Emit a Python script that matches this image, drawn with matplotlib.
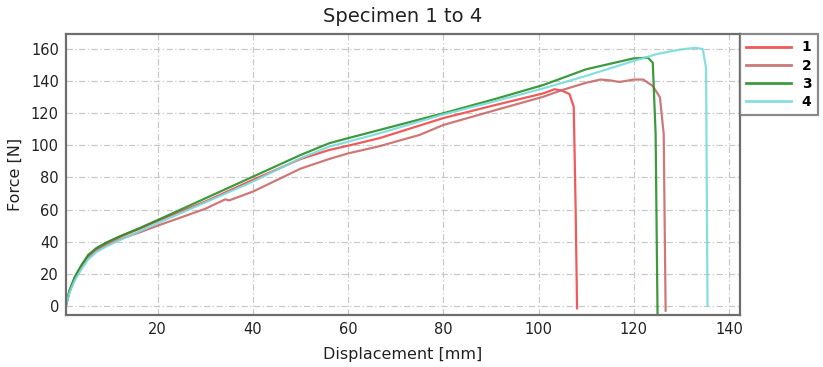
import matplotlib
matplotlib.use("Agg")
import matplotlib.pyplot as plt

title = "Specimen 1 to 4"
xlabel = "Displacement [mm]"
ylabel = "Force [N]"
labels = ["1", "2", "3", "4"]
colors = ["#f04848", "#c86a6a", "#2a8f2a", "#78dcdc"]

x1 = [0.7, 1.5, 2.6, 4, 5.4, 7.1, 9.2, 12, 16.2, 20, 30, 40, 50, 56, 60, 66.6, 80, 91, 101, 103.4, 105, 106.5, 107.4, 107.8, 108.1]
y1 = [0, 9.5, 17.5, 25, 31, 35.5, 39, 43, 48, 53, 65, 78.5, 91.5, 97.1, 99.8, 104.5, 117, 125.2, 132.4, 135, 134, 132, 124, 60, -1.5]

x2 = [0.7, 1.5, 2.6, 4, 5.4, 7.1, 9.2, 12, 16.2, 20, 30, 34.2, 35, 40, 50, 56, 60, 66.6, 75, 80, 91, 101, 105, 110, 113, 115, 117, 120, 122, 124, 125.5, 126.3, 126.7]
y2 = [0, 9, 17, 24, 30, 34.5, 38, 41.5, 45.8, 50, 60.5, 66.4, 65.7, 71.2, 85.5, 91.5, 95, 99.5, 106.5, 112.7, 122, 130.3, 134.5, 139, 141, 140.5, 139.5, 141, 141, 137, 130, 107, -3]

x3 = [0.7, 1.5, 2.6, 4, 5.4, 7.1, 9.2, 12, 16.2, 20, 30, 40, 50, 56, 60, 66.6, 80, 91, 101, 110, 120, 123, 124, 124.6, 125]
y3 = [0, 10, 18.3, 25.5, 31.8, 36, 39.5, 43.3, 48.5, 53.5, 67, 80.5, 94, 101.3, 104.5, 109.6, 120, 129, 137.6, 147.4, 154.2, 154.6, 151.5, 107, -4.5]

x4 = [0.7, 1.5, 2.6, 4, 5.4, 7.1, 9.2, 12, 16.2, 20, 30, 40, 50, 56, 60, 66.6, 80, 91, 101, 110, 120, 125, 130, 133, 134.5, 135.2, 135.5]
y4 = [0, 8.5, 16, 23, 29, 33.5, 37, 41, 46.5, 51.5, 64.5, 77.4, 92, 99.2, 102.3, 107.5, 119.3, 127.6, 135.5, 143.3, 152.6, 157, 159.8, 160.8, 160, 148, 0]

series = [(x1, y1), (x2, y2), (x3, y3), (x4, y4)]

xticks = [20, 40, 60, 80, 100, 120, 140]
yticks = [0, 20, 40, 60, 80, 100, 120, 140, 160]

fig = plt.figure(figsize=(8.23, 3.67), dpi=100)
ax = fig.add_axes([0.080, 0.142, 0.819, 0.765])

lines = []
for (xs, ys), c, lab in zip(series, colors, labels):
    ln, = ax.plot(xs, ys, color=c, lw=1.6, alpha=0.9, label=lab,
                  solid_joinstyle="round")
    lines.append(ln)

ax.set_xlim(0.7, 142.3)
ax.set_ylim(-5.6, 169.3)
ax.set_xticks(xticks)
ax.set_yticks(yticks)
ax.tick_params(length=0, labelsize=10.5, colors="#222222", pad=5)
ax.grid(True, color="#c8c8c8", lw=0.9, linestyle=(0, (5, 2, 1, 2)))
ax.set_axisbelow(True)
for s in ax.spines.values():
    s.set_color("#6e6e6e")
    s.set_linewidth(1.6)

ax.set_title(title, fontsize=14, pad=9, color="#222222")
ax.set_xlabel(xlabel, fontsize=11.5, labelpad=7, color="#222222")
ax.set_ylabel(ylabel, fontsize=11.5, labelpad=6, color="#222222")

leg = fig.legend(handles=lines, labels=labels, loc="upper left",
                 bbox_to_anchor=(0.899, 0.907), frameon=True, fancybox=False,
                 prop={"weight": "bold", "size": 10}, handlelength=3.2,
                 labelspacing=0.3, borderpad=0.45, handletextpad=0.8,
                 borderaxespad=0)
leg.get_frame().set_edgecolor("#6e6e6e")
leg.get_frame().set_linewidth(1.6)
for l in leg.get_lines():
    l.set_linewidth(2.0)

fig.savefig("out.png", dpi=100)
